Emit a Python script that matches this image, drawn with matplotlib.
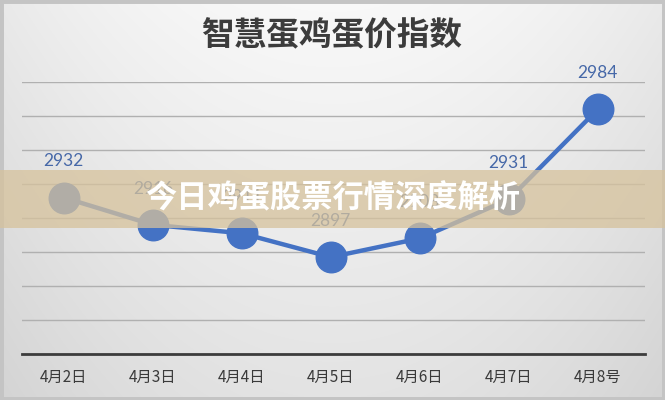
import numpy as np
import matplotlib
matplotlib.use("Agg")
import matplotlib.pyplot as plt
from matplotlib.patches import Rectangle

plt.rcParams['font.family'] = ['Noto Sans CJK SC', 'DejaVu Sans']

# ---- data ----
categories = ["4月2日", "4月3日", "4月4日", "4月5日", "4月6日", "4月7日", "4月8号"]
values = [2932, 2916, 2911, 2897, 2908, 2931, 2984]
title = "智慧蛋鸡蛋价指数"
banner_text = "今日鸡蛋股票行情深度解析"
y_min, y_max, y_step = 2840, 3000, 20

W, H = 665, 400
fig = plt.figure(figsize=(W / 100, H / 100), dpi=100)

# background gradient
bg = fig.add_axes([0, 0, 1, 1], zorder=-10)
xx, yy = np.meshgrid(np.linspace(-1, 1, W), np.linspace(0, 1, H))
val = 0.975 - 0.06 * xx ** 2 - 0.085 * yy
bg.imshow(np.dstack([val, val, val]), aspect='auto', extent=[0, 1, 0, 1], origin='upper')
bg.set_xlim(0, 1)
bg.set_ylim(0, 1)
bg.axis('off')
fig.add_artist(Rectangle((0, 0), 1, 1, transform=fig.transFigure, fill=False,
                         edgecolor='#c4c4c4', linewidth=5, zorder=1))

ax = fig.add_axes([22 / W, 46 / H, 623 / W, 272 / H])
ax.patch.set_alpha(0)
x = np.arange(len(categories))
ax.plot(x, values, color='#4472c4', linewidth=3.2, marker='o', markersize=22,
        markerfacecolor='#4472c4', markeredgecolor='#4472c4', zorder=3, clip_on=False)
for xi, v in zip(x, values):
    ax.annotate(str(v), (xi, v), xytext=(0, 26), textcoords='offset points',
                ha='center', va='center', fontsize=12.5, color='#4668a8',
                family=['Lato', 'DejaVu Sans'], zorder=4)

ax.set_xlim(-0.47, len(categories) - 0.47)
ax.set_ylim(y_min, y_max)
ax.set_yticks(np.arange(y_min, y_max + 1, y_step))
ax.yaxis.grid(True, color='#b0b0b0', linewidth=1.0)
ax.set_axisbelow(True)
ax.set_xticks(x)
ax.set_xticklabels(categories, fontsize=11, color='#3a3a3a')
ax.tick_params(axis='x', length=0, pad=11)
ax.tick_params(axis='y', left=False, labelleft=False)
for s in ['top', 'left', 'right']:
    ax.spines[s].set_visible(False)
ax.spines['bottom'].set_color('#3c3c3c')
ax.spines['bottom'].set_linewidth(2)

fig.text(0.4985, 1 - 36 / H, title, ha='center', va='center', fontsize=23.5,
         fontweight='bold', color='#3c3c3c')

# banner overlay
fig.add_artist(Rectangle((0, 1 - 228 / H), 1, 58 / H, transform=fig.transFigure,
                         facecolor='#d6c29c', alpha=0.75, edgecolor='none', zorder=5))
fig.text(0.5, 1 - 198 / H, banner_text, ha='center', va='center', fontsize=22.5,
         fontweight='bold', color='white', zorder=6)

fig.savefig('out.png', dpi=100)
